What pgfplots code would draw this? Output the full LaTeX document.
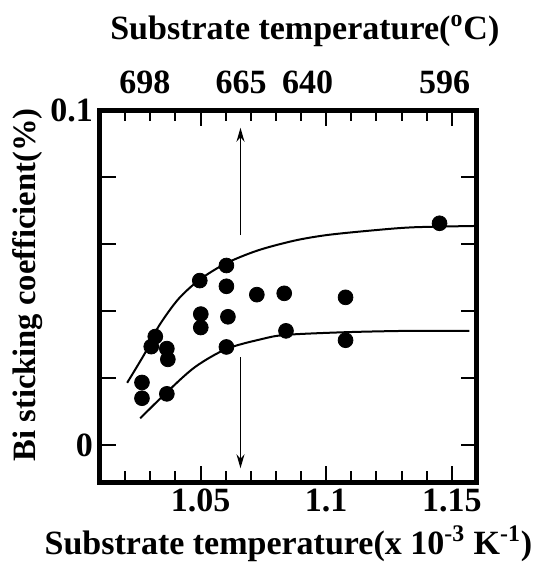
\documentclass[border=0pt]{standalone}
\usepackage{fontspec}
\setmainfont{Liberation Serif}
\usepackage{pgfplots}
\pgfplotsset{compat=1.18}
\usetikzlibrary{arrows.meta}

\begin{document}
\begin{tikzpicture}
\useasboundingbox (-50pt,-43.5pt) rectangle (227pt,241pt);
\begin{axis}[at={(0,0)},anchor=south west,
  scale only axis,width=188.5pt,height=186pt,
  xmin=1.01,xmax=1.16,ymin=-0.011,ymax=0.1,
  xtick={1.05,1.1,1.15},xticklabels={1.05,1.1,1.15},
  minor xtick={1.02,1.03,1.04,1.06,1.07,1.08,1.09,1.11,1.12,1.13,1.14},
  ytick={0,0.02,0.04,0.06,0.08,0.1},yticklabels={0,,,,,0.1},
  tick align=inside,
  major tick length=8pt,minor tick length=5.5pt,
  axis line style={line width=2.5pt},
  tick style={line width=1pt,black},
  ticklabel style={font=\fontsize{17}{17}\selectfont\bfseries},
  label style={font=\fontsize{17}{17}\selectfont\bfseries},
  ylabel style={font=\fontsize{16.3}{16.3}\selectfont\bfseries,at={(ticklabel cs:0.53)}},
  ylabel shift=-3pt,
  xlabel={Substrate temperature(x 10\textsuperscript{-3} K\textsuperscript{-1})},
  ylabel={Bi sticking coefficient(\%)},
  clip=false]

% upper envelope
\addplot[black,line width=1pt,smooth] coordinates {
  (1.0208,0.0186)(1.0280,0.0276)(1.0333,0.0354)(1.0412,0.0436)
  (1.0497,0.0494)(1.0603,0.0543)(1.0728,0.0581)(1.0872,0.0610)
  (1.1004,0.0627)(1.1188,0.0641)(1.1346,0.0650)(1.1596,0.0654)};
% lower envelope
\addplot[black,line width=1pt,smooth] coordinates {
  (1.0260,0.0080)(1.0366,0.0158)(1.0478,0.0233)(1.0603,0.0287)
  (1.0741,0.0316)(1.0839,0.0329)(1.1077,0.0337)(1.1330,0.0341)
  (1.1570,0.0341)};

% measured points
\addplot[only marks,mark=*,mark size=3.7pt,black] coordinates {
  (1.0267,0.0187)(1.0267,0.0140)(1.0320,0.0324)(1.0304,0.0294)
  (1.0366,0.0288)(1.0370,0.0256)(1.0366,0.0153)
  (1.0497,0.0491)(1.0501,0.0391)(1.0501,0.0351)
  (1.0603,0.0536)(1.0603,0.0474)(1.0609,0.0383)(1.0603,0.0293)
  (1.0724,0.0449)(1.0833,0.0453)(1.0840,0.0341)
  (1.1077,0.0441)(1.1077,0.0313)(1.1451,0.0662)};

% arrows at 665 C
\addplot[black,line width=0.6pt,-{Stealth[length=7pt,width=4pt]}] coordinates {(1.0659,0.0627)(1.0659,0.0947)};
\addplot[black,line width=0.6pt,-{Stealth[length=7pt,width=4pt]}] coordinates {(1.0659,0.0262)(1.0659,-0.0069)};

% top temperature scale
\begin{scope}[every node/.style={font=\fontsize{17}{17}\selectfont\bfseries,anchor=base}]
\node at ([yshift=8.5pt]axis cs:1.0279,0.1) {698};
\node at ([yshift=8.5pt]axis cs:1.0662,0.1) {665};
\node at ([yshift=8.5pt]axis cs:1.0926,0.1) {640};
\node at ([yshift=8.5pt]axis cs:1.1471,0.1) {596};
\end{scope}
\node[font=\fontsize{17}{17}\selectfont\bfseries,anchor=base] at ([yshift=35.5pt]axis cs:1.0915,0.1) {Substrate temperature(\textsuperscript{o}C)};
\end{axis}
\end{tikzpicture}
\end{document}
